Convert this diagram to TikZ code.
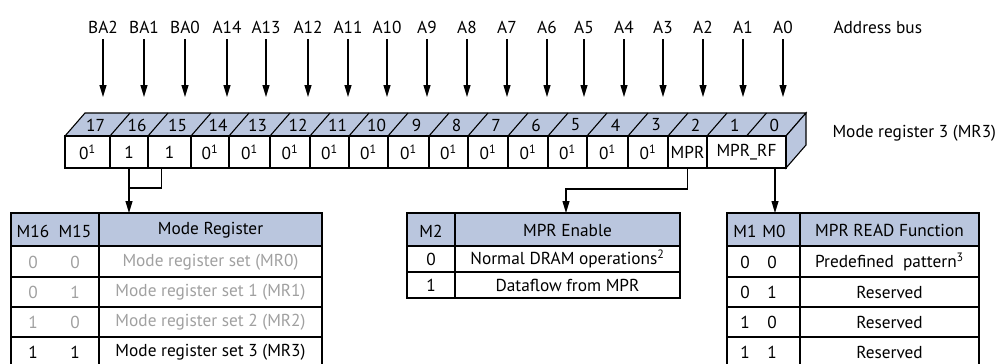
\documentclass[tikz,border=0pt]{standalone}
\usepackage{fontspec}
\setmainfont{PT Sans}
\usetikzlibrary{arrows.meta}
\definecolor{hdr}{RGB}{186,198,222}
\definecolor{greytext}{RGB}{160,160,160}
\begin{document}
\begin{tikzpicture}[x=1pt,y=-1pt,
  font=\fontsize{17.3}{19}\selectfont,
  line width=1.1pt,
  arr/.style={-{Triangle[width=7pt,length=12pt]}, line width=1.1pt},
  lbl/.style={inner sep=0pt, anchor=base},
  cell/.style={draw, fill=white, minimum height=32pt, inner sep=0pt, outer sep=0pt, anchor=north west},
  hdrbox/.style={draw, fill=hdr, inner sep=0pt, outer sep=0pt, minimum height=33pt, anchor=north west},
  tx/.style={inner sep=0pt},
  gr/.style={inner sep=0pt, text=greytext}]
\useasboundingbox (0,0) rectangle (1002,364);

% ---------- address bus ----------
\foreach \x/\t/\n in {103/BA2/lba2,144/BA1/lba1,185/BA0/lba0,227/A14/la14,266/A13/la13,308/A12/la12,348/A11/la11,387/A10/la10,427/A9/la9,467/A8/la8,507/A7/la7,547/A6/la6,584/A5/la5,624/A4/la4,663/A3/la3,703/A2/la2,743/A1/la1,783/A0/la0}{
  \node[lbl] (\n) at (\x,33) {\t};
  \draw[arr] ([yshift=-6pt]\n.base) -- ([yshift=-64pt]\n.base);
}
\node[lbl, anchor=base west] (abus) at (833,33) {Address bus};

% ---------- register ----------
\draw[fill=hdr] (65,136) -- (85,113) -- (806,113) -- (786,136) -- cycle;
\draw[fill=hdr] (786,136) -- (806,113) -- (806,145) -- (786,168) -- cycle;
\foreach \a in {110,148,191,229,270,310,349,388,429,468,508,548,587,628,668,707,746.5}{
  \draw (\a,136) -- (\a+20,113);
}
\foreach \a/\b/\num in {65/110/17,110/148/16,148/191/15,191/229/14,229/270/13,270/310/12,310/349/11,349/388/10,388/429/9,429/468/8,468/508/7,508/548/6,548/587/5,587/628/4,628/668/3,668/707/2,707/746.5/1,746.5/786/0}{
  \node[tx] at ({(\a+\b)/2+8},125) {\num};
}
\foreach \a/\b/\t/\n in {65/110/{0\textsuperscript{1}}/c17,110/148/1/c16,148/191/1/c15,191/229/{0\textsuperscript{1}}/c14,229/270/{0\textsuperscript{1}}/c13,270/310/{0\textsuperscript{1}}/c12,310/349/{0\textsuperscript{1}}/c11,349/388/{0\textsuperscript{1}}/c10x,388/429/{0\textsuperscript{1}}/c9,429/468/{0\textsuperscript{1}}/c8,468/508/{0\textsuperscript{1}}/c7,508/548/{0\textsuperscript{1}}/c6,548/587/{0\textsuperscript{1}}/c5,587/628/{0\textsuperscript{1}}/c4,628/668/{0\textsuperscript{1}}/c3,668/707/MPR/c2,707/786/MPR\_RF/c10}{
  \node[cell, minimum width={\b-\a}] (\n) at (\a,136) {\t};
}
\node[lbl, anchor=base west] (mr3) at (832,137) {Mode register 3 (MR3)};

% ---------- left table ----------
\node[hdrbox, minimum width=311pt] (t1) at (11,213) {};
\draw (11,246) rectangle (322,368);
\draw (99,213) -- (99,368);
\foreach \y in {277,307,337} \draw (11,\y) -- (322,\y);
\node[tx] at (33,231) {M16};
\node[tx] at (75,231) {M15};
\node[tx] at (210.5,230) {Mode Register};
\node[gr] at (33,262) {0}; \node[gr] at (75,262) {0}; \node[gr] at (210.5,262) {Mode register set (MR0)};
\node[gr] at (33,292) {0}; \node[gr] at (75,292) {1}; \node[gr] at (210.5,292) {Mode register set 1 (MR1)};
\node[gr] at (33,322) {1}; \node[gr] at (75,322) {0}; \node[gr] at (210.5,322) {Mode register set 2 (MR2)};
\node[tx] at (33,352) {1}; \node[tx] at (75,352) {1}; \node[tx] at (210.5,352) {Mode register set 3 (MR3)};

% ---------- middle table ----------
\node[hdrbox, minimum width=273pt] (t2) at (407,213) {};
\draw (407,246) rectangle (680,298);
\draw (455,213) -- (455,298);
\draw (407,272) -- (680,272);
\node[tx] at (431,231) {M2};
\node[tx] at (567.5,230) {MPR Enable};
\node[tx] at (431,259) {0}; \node[tx] at (567.5,259) {Normal DRAM operations\textsuperscript{2}};
\node[tx] at (431,285) {1}; \node[tx] at (567.5,285) {Dataflow from MPR};

% ---------- right table ----------
\node[hdrbox, minimum width=252pt] (t3) at (727,213) {};
\draw (727,246) rectangle (979,368);
\draw (800,213) -- (800,368);
\foreach \y in {277,307,337} \draw (727,\y) -- (979,\y);
\node[tx] at (745,231) {M1};
\node[tx] at (774,231) {M0};
\node[tx] at (889.5,230) {MPR READ Function};
\node[tx] at (745,262) {0}; \node[tx] at (772,262) {0}; \node[tx] at (889.5,262) {Predefined\ \ pattern\textsuperscript{3}};
\node[tx] at (745,292) {0}; \node[tx] at (772,292) {1}; \node[tx] at (889.5,292) {Reserved};
\node[tx] at (745,322) {1}; \node[tx] at (772,322) {0}; \node[tx] at (889.5,322) {Reserved};
\node[tx] at (745,352) {1}; \node[tx] at (772,352) {1}; \node[tx] at (889.5,352) {Reserved};

% ---------- connectors ----------
\coordinate (j1) at ([yshift=-20pt]c16.south);
\draw (c16.south) -- (j1);
\draw ([xshift=-8pt]c15.south) |- (j1);
\draw[arr] (j1) -- (j1 |- t1.north);
\coordinate (t2in) at ([xshift=22.5pt]t2.north);
\draw[arr] (c2.south) -- ++(0,21) -| (t2in);
\draw[arr] ([xshift=28.5pt]c10.south) -- ([xshift=28.5pt]c10.south |- t3.north);
\end{tikzpicture}
\end{document}
